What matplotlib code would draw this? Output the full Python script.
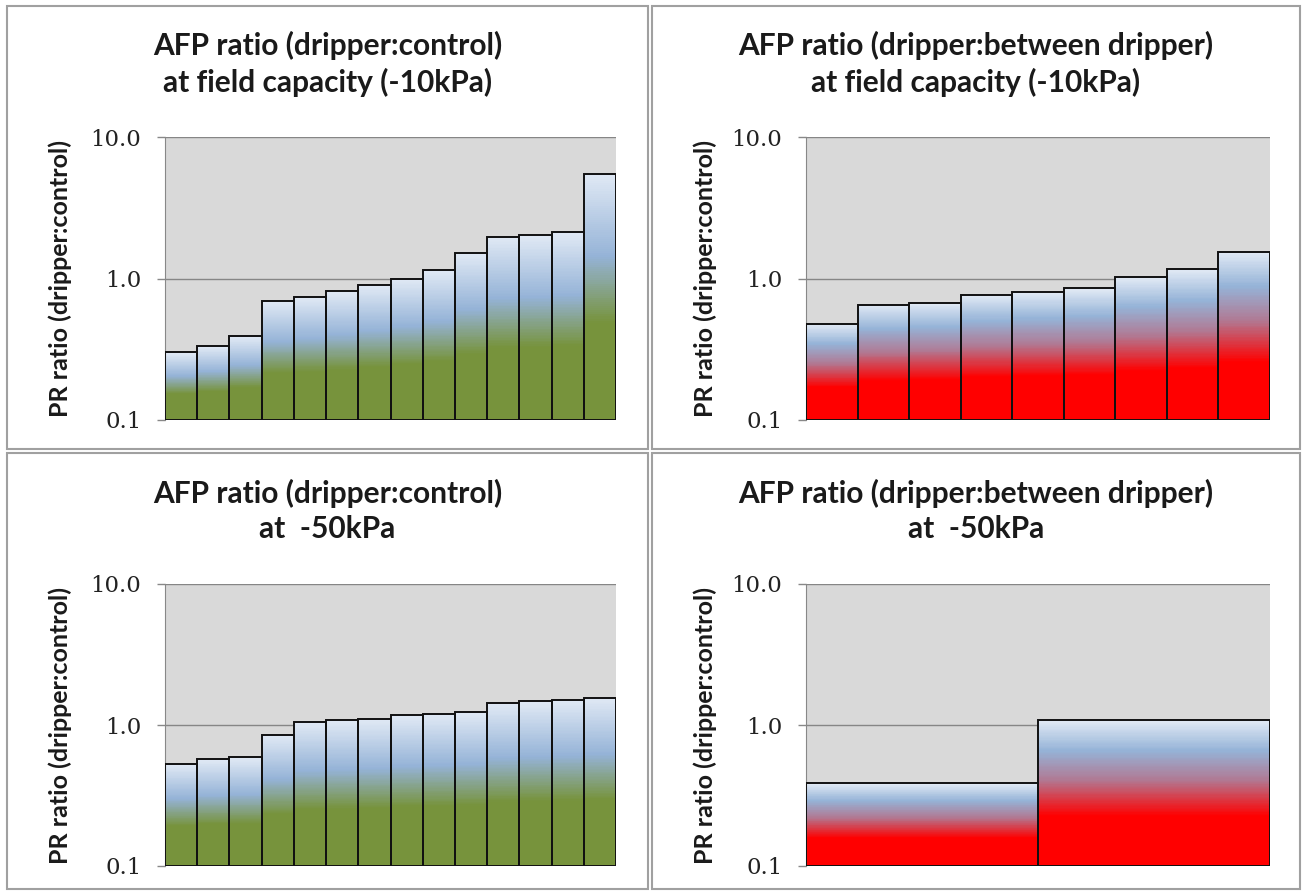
import numpy as np
import matplotlib
matplotlib.use("Agg")
import matplotlib.pyplot as plt
from matplotlib.colors import LinearSegmentedColormap
from matplotlib.patches import Rectangle

# --- Data ---
fc_control = [0.30, 0.334, 0.39, 0.695, 0.746, 0.81, 0.90, 1.00, 1.14, 1.52, 1.98, 2.02, 2.12, 5.47]
fc_between = [0.48, 0.655, 0.676, 0.77, 0.805, 0.85, 1.02, 1.16, 1.55]
kpa50_control = [0.531, 0.574, 0.589, 0.854, 1.05, 1.08, 1.10, 1.17, 1.20, 1.23, 1.43, 1.47, 1.51, 1.56]
kpa50_between = [0.388, 1.08]

titles = ["AFP ratio (dripper:control)\nat field capacity (-10kPa)",
          "AFP ratio (dripper:between dripper)\nat field capacity (-10kPa)",
          "AFP ratio (dripper:control)\nat  -50kPa",
          "AFP ratio (dripper:between dripper)\nat  -50kPa"]
ylabel = "PR ratio (dripper:control)"
yticks = [0.1, 1.0, 10.0]
ytick_labels = ["0.1", "1.0", "10.0"]

# --- Style ---
W, H = 1304, 892
LIGHT = "#dfe8f4"
BLUE = "#95b3d7"
green_cmap = LinearSegmentedColormap.from_list(
    "g", [(0.0, LIGHT), (0.33, BLUE), (0.6, "#77933c"), (1.0, "#77933c")])
red_cmap = LinearSegmentedColormap.from_list(
    "r", [(0.0, LIGHT), (0.2, BLUE), (0.4, "#b07a94"), (0.65, "#ff0000"), (1.0, "#ff0000")])

# panel boxes and plot areas in pixels (left, top, right, bottom)
panels = [(7, 6, 648, 449), (652, 6, 1300, 449), (7, 453, 648, 889), (652, 453, 1300, 889)]
plots = [(165, 137, 616, 420), (806, 137, 1270, 420), (165, 584, 616, 866), (806, 584, 1270, 866)]
series = [(fc_control, green_cmap), (fc_between, red_cmap),
          (kpa50_control, green_cmap), (kpa50_between, red_cmap)]

fig = plt.figure(figsize=(W / 100, H / 100), dpi=100)
fig.patch.set_facecolor("white")


def gradient_bars(ax, values, cmap):
    x = np.arange(len(values))
    for i, v in enumerate(values):
        yedges = np.geomspace(0.1, v, 121)
        ymid = np.sqrt(yedges[:-1] * yedges[1:])
        frac = (np.log10(v) - np.log10(ymid)) / (np.log10(v) - np.log10(0.1))
        ax.pcolormesh([i - 0.5, i + 0.5], yedges, frac[:, None], cmap=cmap,
                      vmin=0, vmax=1, shading="flat", edgecolors="face", linewidth=0.3, zorder=2)
    ax.bar(x, np.array(values) - 0.1, bottom=0.1, width=1.0, fill=False,
           edgecolor="#111111", linewidth=1.4, zorder=3)


for (pl, pt, pr, pb), (bl, bt, br, bb), (vals, cmap), title in zip(plots, panels, series, titles):
    # chart area border
    fig.patches.append(Rectangle((bl / W, 1 - bb / H), (br - bl) / W, (bb - bt) / H,
                                 transform=fig.transFigure, fill=False,
                                 edgecolor="#a0a0a0", linewidth=1.5))
    fig.text((bl + br) / 2 / W, 1 - (bt + 58) / H, title, ha="center", va="center",
             fontsize=21.5, fontweight="bold", family="Lato", color="#1a1a1a", linespacing=1.33)

    ax = fig.add_axes([pl / W, 1 - pb / H, (pr - pl) / W, (pb - pt) / H])
    ax.set_facecolor("#d9d9d9")
    ax.set_yscale("log")
    ax.set_ylim(0.1, 10)
    ax.set_xlim(-0.5, len(vals) - 0.5)
    gradient_bars(ax, vals, cmap)

    ax.set_yticks(yticks)
    ax.set_yticklabels(ytick_labels, family="DejaVu Serif", fontsize=16.5, color="#222222")
    ax.yaxis.set_minor_locator(matplotlib.ticker.NullLocator())
    ax.tick_params(axis="y", length=6, width=1, color="#888888", pad=11)
    ax.set_xticks([])
    ax.grid(axis="y", color="#868686", linewidth=1, zorder=1)
    ax.set_axisbelow(True)
    for side in ["top", "right", "bottom"]:
        ax.spines[side].set_visible(False)
    ax.spines["left"].set_color("#888888")

    ax.set_ylabel(ylabel, family="Lato", fontweight="bold", fontsize=18, color="#1a1a1a")
    ax.yaxis.set_label_coords(-(pl - bl - 65) / (pr - pl), 0.5)

fig.savefig("out.png", dpi=100)
